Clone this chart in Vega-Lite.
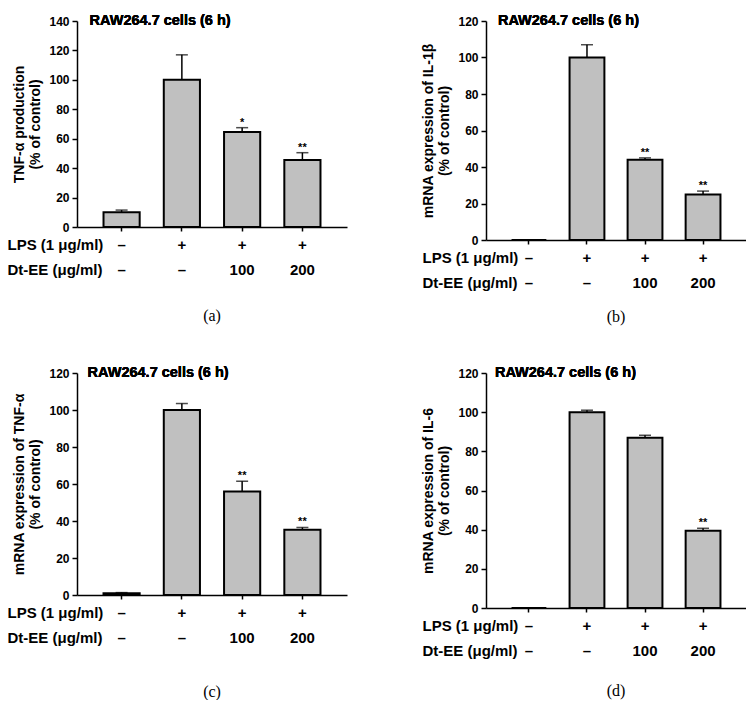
{
 "$schema": "https://vega.github.io/schema/vega-lite/v6.json",
 "background": "white",
 "padding": {"left": 7, "top": 13, "right": 0, "bottom": 0},
 "columns": 2,
 "align": "none",
 "spacing": {"row": 40, "column": 74},
 "config": {
  "view": {"stroke": null},
  "font": "Liberation Sans",
  "axis": {"domainColor": "black", "domainWidth": 1.5, "tickColor": "black", "tickWidth": 1.5, "labelColor": "black", "titleColor": "black", "grid": false, "labelFont": "Liberation Sans", "titleFont": "Liberation Sans", "labelFontWeight": "bold", "titleFontWeight": "bold"},
  "axisY": {"labelFontSize": 12, "tickSize": 5, "labelPadding": 3, "titleFontSize": 14, "titleLineHeight": 16, "titlePadding": 6},
  "axisX": {"labelAngle": 0, "labelFontSize": 15, "labelLineHeight": 25, "labelPadding": 6, "labelBaseline": "top", "tickSize": 4, "titleFontSize": 15, "titleLineHeight": 25, "titleAlign": "left", "titleBaseline": "top", "titleAngle": 0},
  "title": {"font": "Liberation Serif", "fontSize": 16, "fontWeight": "normal", "color": "black", "orient": "bottom", "anchor": "middle"}
 },
 "datasets": {
  "a": [
   {"group": "–|–", "mean": 10, "upper": 11.5, "sig": ""},
   {"group": "+|–", "mean": 100, "upper": 117, "sig": ""},
   {"group": "+|100", "mean": 64.5, "upper": 67.5, "sig": "*"},
   {"group": "+|200", "mean": 45.5, "upper": 50.5, "sig": "**"}
  ],
  "b": [
   {"group": "–|–", "mean": 0, "upper": null, "sig": ""},
   {"group": "+|–", "mean": 100, "upper": 107, "sig": ""},
   {"group": "+|100", "mean": 44, "upper": 45, "sig": "**"},
   {"group": "+|200", "mean": 25, "upper": 26.8, "sig": "**"}
  ],
  "c": [
   {"group": "–|–", "mean": 1, "upper": 1.3, "sig": ""},
   {"group": "+|–", "mean": 100, "upper": 103.5, "sig": ""},
   {"group": "+|100", "mean": 56, "upper": 61.5, "sig": "**"},
   {"group": "+|200", "mean": 35.3, "upper": 36.5, "sig": "**"}
  ],
  "d": [
   {"group": "–|–", "mean": 0, "upper": null, "sig": ""},
   {"group": "+|–", "mean": 100, "upper": 101, "sig": ""},
   {"group": "+|100", "mean": 87, "upper": 88.2, "sig": ""},
   {"group": "+|200", "mean": 39.5, "upper": 40.7, "sig": "**"}
  ]
 },
 "concat": [
    {
     "width": 270, "height": 206,
     "data": {"name": "a"},
     "title": {"text": "(a)", "offset": 31},
     "encoding": {
      "x": {"field": "group", "type": "nominal", "sort": null, "scale": {"paddingInner": 0.4, "paddingOuter": 0.44},
       "axis": {"title": ["LPS (1 μg/ml)", "Dt-EE (μg/ml)"], "titleX": -70, "titleY": 10, "labelExpr": "split(datum.value, '|')"}}
     },
     "layer": [
      {"mark": {"type": "bar", "fill": "#c0c0c0", "stroke": "black", "strokeWidth": 2},
       "encoding": {"y": {"field": "mean", "type": "quantitative", "scale": {"domain": [0, 140], "nice": false},
        "axis": {"title": ["TNF-α production", "(% of control)"], "titleFontSize": 14, "labelFontSize": 12, "values": [0, 20, 40, 60, 80, 100, 120, 140]}}}},
      {"mark": {"type": "rule", "color": "black", "strokeWidth": 1.5}, "encoding": {"y": {"field": "mean", "type": "quantitative", "axis": {"title": ["TNF-α production", "(% of control)"], "titleFontSize": 14, "labelFontSize": 12, "values": [0, 20, 40, 60, 80, 100, 120, 140]}}, "y2": {"field": "upper"}}},
      {"mark": {"type": "tick", "color": "black", "thickness": 1.5, "size": 12}, "encoding": {"y": {"field": "upper", "type": "quantitative", "axis": {"title": ["TNF-α production", "(% of control)"], "titleFontSize": 14, "labelFontSize": 12, "values": [0, 20, 40, 60, 80, 100, 120, 140]}}}},
      {"mark": {"type": "text", "baseline": "alphabetic", "dy": -2, "fontSize": 11, "fontWeight": "bold", "color": "black"}, "encoding": {"y": {"field": "upper", "type": "quantitative", "axis": {"title": ["TNF-α production", "(% of control)"], "titleFontSize": 14, "labelFontSize": 12, "values": [0, 20, 40, 60, 80, 100, 120, 140]}}, "text": {"field": "sig"}}},
      {"mark": {"type": "text", "align": "left", "baseline": "middle", "dx": -32, "fontSize": 14.5, "fontWeight": "bold", "color": "black", "text": "RAW264.7 cells (6 h)"}, "encoding": {"x": {"datum": "–|–"}, "y": {"datum": 140, "axis": {"title": ["TNF-α production", "(% of control)"], "titleFontSize": 14, "labelFontSize": 12, "values": [0, 20, 40, 60, 80, 100, 120, 140]}}}}
     ]
    },
    {
     "width": 260, "height": 219,
     "data": {"name": "b"},
     "title": {"text": "(b)", "offset": 19},
     "encoding": {
      "x": {"field": "group", "type": "nominal", "sort": null, "scale": {"paddingInner": 0.4, "paddingOuter": 0.44},
       "axis": {"title": ["LPS (1 μg/ml)", "Dt-EE (μg/ml)"], "titleX": -64, "titleY": 10, "labelExpr": "split(datum.value, '|')"}}
     },
     "layer": [
      {"mark": {"type": "bar", "fill": "#c0c0c0", "stroke": "black", "strokeWidth": 2},
       "encoding": {"y": {"field": "mean", "type": "quantitative", "scale": {"domain": [0, 120], "nice": false},
        "axis": {"title": ["mRNA expression of IL-1β", "(% of control)"], "titleFontSize": 14, "labelFontSize": 12, "values": [0, 20, 40, 60, 80, 100, 120]}}}},
      {"mark": {"type": "rule", "color": "black", "strokeWidth": 1.5}, "encoding": {"y": {"field": "mean", "type": "quantitative", "axis": {"title": ["mRNA expression of IL-1β", "(% of control)"], "titleFontSize": 14, "labelFontSize": 12, "values": [0, 20, 40, 60, 80, 100, 120]}}, "y2": {"field": "upper"}}},
      {"mark": {"type": "tick", "color": "black", "thickness": 1.5, "size": 12}, "encoding": {"y": {"field": "upper", "type": "quantitative", "axis": {"title": ["mRNA expression of IL-1β", "(% of control)"], "titleFontSize": 14, "labelFontSize": 12, "values": [0, 20, 40, 60, 80, 100, 120]}}}},
      {"mark": {"type": "text", "baseline": "alphabetic", "dy": -2, "fontSize": 11, "fontWeight": "bold", "color": "black"}, "encoding": {"y": {"field": "upper", "type": "quantitative", "axis": {"title": ["mRNA expression of IL-1β", "(% of control)"], "titleFontSize": 14, "labelFontSize": 12, "values": [0, 20, 40, 60, 80, 100, 120]}}, "text": {"field": "sig"}}},
      {"mark": {"type": "text", "align": "left", "baseline": "middle", "dx": -31, "fontSize": 14.5, "fontWeight": "bold", "color": "black", "text": "RAW264.7 cells (6 h)"}, "encoding": {"x": {"datum": "–|–"}, "y": {"datum": 120, "axis": {"title": ["mRNA expression of IL-1β", "(% of control)"], "titleFontSize": 14, "labelFontSize": 12, "values": [0, 20, 40, 60, 80, 100, 120]}}}}
     ]
    },
    {
     "width": 270, "height": 222,
     "data": {"name": "c"},
     "title": {"text": "(c)", "offset": 39},
     "encoding": {
      "x": {"field": "group", "type": "nominal", "sort": null, "scale": {"paddingInner": 0.4, "paddingOuter": 0.44},
       "axis": {"title": ["LPS (1 μg/ml)", "Dt-EE (μg/ml)"], "titleX": -70, "titleY": 10, "labelExpr": "split(datum.value, '|')"}}
     },
     "layer": [
      {"mark": {"type": "bar", "fill": "#c0c0c0", "stroke": "black", "strokeWidth": 2},
       "encoding": {"y": {"field": "mean", "type": "quantitative", "scale": {"domain": [0, 120], "nice": false},
        "axis": {"title": ["mRNA expression of TNF-α", "(% of control)"], "titleFontSize": 14, "labelFontSize": 12, "values": [0, 20, 40, 60, 80, 100, 120]}}}},
      {"mark": {"type": "rule", "color": "black", "strokeWidth": 1.5}, "encoding": {"y": {"field": "mean", "type": "quantitative", "axis": {"title": ["mRNA expression of TNF-α", "(% of control)"], "titleFontSize": 14, "labelFontSize": 12, "values": [0, 20, 40, 60, 80, 100, 120]}}, "y2": {"field": "upper"}}},
      {"mark": {"type": "tick", "color": "black", "thickness": 1.5, "size": 12}, "encoding": {"y": {"field": "upper", "type": "quantitative", "axis": {"title": ["mRNA expression of TNF-α", "(% of control)"], "titleFontSize": 14, "labelFontSize": 12, "values": [0, 20, 40, 60, 80, 100, 120]}}}},
      {"mark": {"type": "text", "baseline": "alphabetic", "dy": -2, "fontSize": 11, "fontWeight": "bold", "color": "black"}, "encoding": {"y": {"field": "upper", "type": "quantitative", "axis": {"title": ["mRNA expression of TNF-α", "(% of control)"], "titleFontSize": 14, "labelFontSize": 12, "values": [0, 20, 40, 60, 80, 100, 120]}}, "text": {"field": "sig"}}},
      {"mark": {"type": "text", "align": "left", "baseline": "middle", "dx": -34, "fontSize": 14.5, "fontWeight": "bold", "color": "black", "text": "RAW264.7 cells (6 h)"}, "encoding": {"x": {"datum": "–|–"}, "y": {"datum": 120, "axis": {"title": ["mRNA expression of TNF-α", "(% of control)"], "titleFontSize": 14, "labelFontSize": 12, "values": [0, 20, 40, 60, 80, 100, 120]}}}}
     ]
    },
    {
     "width": 260, "height": 235,
     "data": {"name": "d"},
     "title": {"text": "(d)", "offset": 25},
     "encoding": {
      "x": {"field": "group", "type": "nominal", "sort": null, "scale": {"paddingInner": 0.4, "paddingOuter": 0.44},
       "axis": {"title": ["LPS (1 μg/ml)", "Dt-EE (μg/ml)"], "titleX": -64, "titleY": 10, "labelExpr": "split(datum.value, '|')"}}
     },
     "layer": [
      {"mark": {"type": "bar", "fill": "#c0c0c0", "stroke": "black", "strokeWidth": 2},
       "encoding": {"y": {"field": "mean", "type": "quantitative", "scale": {"domain": [0, 120], "nice": false},
        "axis": {"title": ["mRNA expression of IL-6", "(% of control)"], "titleFontSize": 14, "labelFontSize": 12, "values": [0, 20, 40, 60, 80, 100, 120]}}}},
      {"mark": {"type": "rule", "color": "black", "strokeWidth": 1.5}, "encoding": {"y": {"field": "mean", "type": "quantitative", "axis": {"title": ["mRNA expression of IL-6", "(% of control)"], "titleFontSize": 14, "labelFontSize": 12, "values": [0, 20, 40, 60, 80, 100, 120]}}, "y2": {"field": "upper"}}},
      {"mark": {"type": "tick", "color": "black", "thickness": 1.5, "size": 12}, "encoding": {"y": {"field": "upper", "type": "quantitative", "axis": {"title": ["mRNA expression of IL-6", "(% of control)"], "titleFontSize": 14, "labelFontSize": 12, "values": [0, 20, 40, 60, 80, 100, 120]}}}},
      {"mark": {"type": "text", "baseline": "alphabetic", "dy": -2, "fontSize": 11, "fontWeight": "bold", "color": "black"}, "encoding": {"y": {"field": "upper", "type": "quantitative", "axis": {"title": ["mRNA expression of IL-6", "(% of control)"], "titleFontSize": 14, "labelFontSize": 12, "values": [0, 20, 40, 60, 80, 100, 120]}}, "text": {"field": "sig"}}},
      {"mark": {"type": "text", "align": "left", "baseline": "middle", "dx": -34, "fontSize": 14.5, "fontWeight": "bold", "color": "black", "text": "RAW264.7 cells (6 h)"}, "encoding": {"x": {"datum": "–|–"}, "y": {"datum": 120, "axis": {"title": ["mRNA expression of IL-6", "(% of control)"], "titleFontSize": 14, "labelFontSize": 12, "values": [0, 20, 40, 60, 80, 100, 120]}}}}
     ]
    }
 ]
}
